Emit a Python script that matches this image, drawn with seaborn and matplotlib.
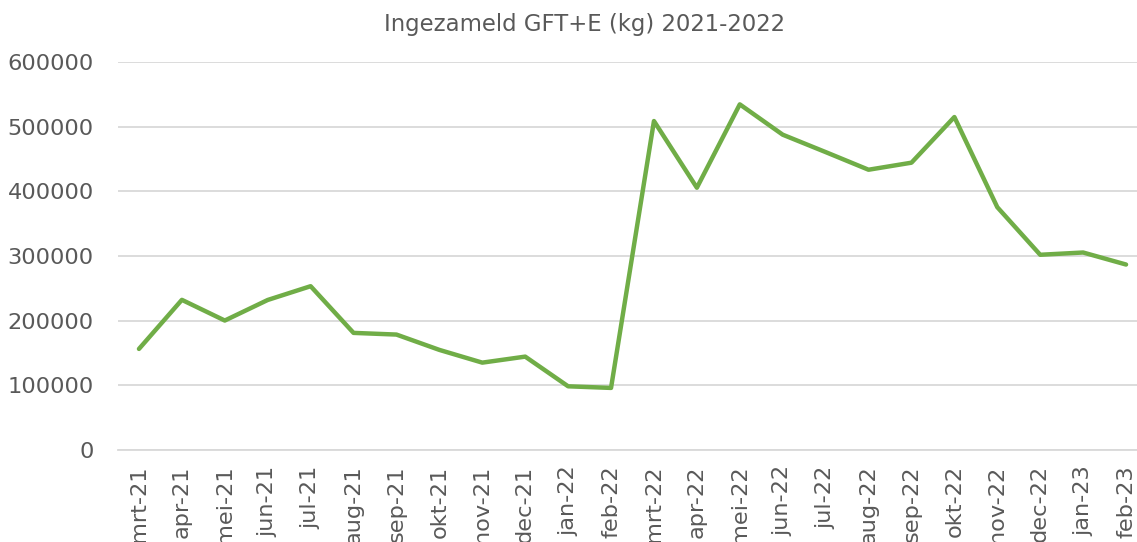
import matplotlib
matplotlib.use("Agg")
import numpy as np
import pandas as pd
import seaborn as sns
import matplotlib.pyplot as plt
from matplotlib.ticker import FixedLocator

months = ["mrt-21", "apr-21", "mei-21", "jun-21", "jul-21", "aug-21",
          "sep-21", "okt-21", "nov-21", "dec-21", "jan-22", "feb-22",
          "mrt-22", "apr-22", "mei-22", "jun-22", "jul-22", "aug-22",
          "sep-22", "okt-22", "nov-22", "dec-22", "jan-23", "feb-23"]
gft_kg = [156300, 232200, 200200, 232000, 253300, 181100,
          178500, 154800, 135100, 144400, 98500, 96000,
          508700, 405600, 534500, 487600, 460700, 433400,
          444300, 514900, 375500, 301900, 305400, 286800]
y_ticks = [0, 100000, 200000, 300000, 400000, 500000, 600000]

df = pd.DataFrame({"maand": months, "kg": gft_kg})

sns.set_style("white")
plt.rcParams["font.family"] = ["DejaVu Sans"]
text_col = "#595959"
grid_col = "#D9D9D9"

fig = plt.figure(figsize=(11.37, 5.42), dpi=100)
# plot area runs a bit past the right edge, like the cropped original
ax = fig.add_axes([117.5 / 1137, 1 - 450 / 542, 1030 / 1137, 388 / 542])

sns.lineplot(data=df, x="maand", y="kg", ax=ax, color="#70AD47",
             linewidth=3.2, sort=False)

ax.set_xlim(-0.5, len(months) - 0.5)
ax.set_ylim(0, 600000)
ax.set_yticks(y_ticks)
ax.set_yticklabels([str(v) for v in y_ticks], fontsize=16.2, color=text_col)
ax.yaxis.grid(True, color=grid_col, linewidth=1.3)
ax.set_axisbelow(True)
ax.tick_params(axis="y", length=0, pad=17)

ax.set_xticks(range(len(months)))
ax.set_xticklabels(months, rotation=90, fontsize=16.2, color=text_col,
                   va="top", ha="center")
ax.tick_params(axis="x", which="major", length=0, pad=11)
ax.xaxis.set_minor_locator(FixedLocator(np.arange(-0.5, len(months), 1)))
ax.tick_params(axis="x", which="minor", length=7, color=grid_col, width=1.3)

for side in ["left", "right", "top"]:
    ax.spines[side].set_visible(False)
ax.spines["bottom"].set_color(grid_col)
ax.spines["bottom"].set_linewidth(1.3)

ax.set_xlabel("")
ax.set_ylabel("")

fig.text(584 / 1137, 1 - 24 / 542, "Ingezameld GFT+E (kg) 2021-2022",
         ha="center", va="center", fontsize=16.4, color=text_col)

fig.savefig("out.png", dpi=100)
